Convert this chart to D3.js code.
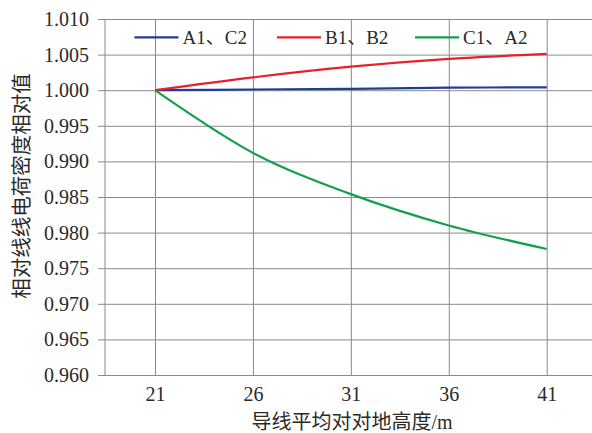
<!DOCTYPE html>
<html>
<head>
<meta charset="utf-8">
<script src="https://cdn.jsdelivr.net/npm/d3@7/dist/d3.min.js"></script>
<style>
  html, body { margin: 0; padding: 0; background: #fff; }
  svg text { font-family: "Liberation Serif", "Times New Roman", Times, "DejaVu Serif", "Noto Sans CJK SC", serif; fill: #2a2a2a; }
</style>
</head>
<body>
<svg id="chart" width="592" height="433"></svg>
<script>
// ---- data ----
const heights = [21, 26, 31, 36, 41];
const seriesNames = ["A1、C2", "B1、B2", "C1、A2"];
const seriesA1C2 = [1.0000, 1.0001, 1.0002, 1.00035, 1.0004];
const seriesB1B2 = [1.0000, 1.0018, 1.0033, 1.0044, 1.0051];
const seriesC1A2 = [1.0000, 0.9912, 0.9854, 0.9810, 0.9777];
const seriesColors = ["#1f3c96", "#e8202a", "#13a04a"];
const yTickValues = [0.960, 0.965, 0.970, 0.975, 0.980, 0.985, 0.990, 0.995, 1.000, 1.005, 1.010];
const xTickValues = [21, 26, 31, 36, 41];
const xTitle = "导线平均对对地高度/m";
const yTitle = "相对线线电荷密度相对值";

const FONT = '"Liberation Serif", "Times New Roman", Times, "DejaVu Serif", "Noto Sans CJK SC", serif';

const svg = d3.select("#chart");
const plotLeft = 105, plotTop = 19, plotBottom = 375, plotRight = 592;

const x = d3.scaleLinear().domain([21, 41]).range([155, 546.7]);
const y = d3.scaleLinear().domain([0.960, 1.010]).range([plotBottom, plotTop]);

const gridColor = "#8a8a8a";

// y grid + labels
const yAxis = d3.axisLeft(y)
  .tickValues(yTickValues)
  .tickFormat(d3.format(".3f"))
  .tickSizeInner(-(plotRight - 98))
  .tickSizeOuter(0)
  .tickPadding(9);
const gy = svg.append("g").attr("transform", "translate(98,0)").call(yAxis);
gy.attr("font-family", null).attr("font-size", null);
gy.select(".domain").remove();
gy.selectAll(".tick line").attr("stroke", gridColor).attr("stroke-width", 1);
gy.selectAll(".tick text").attr("font-size", 20).attr("fill", "#2a2a2a")
  .attr("font-family", FONT).style("font-family", FONT);

// x grid + labels
const xAxis = d3.axisBottom(x)
  .tickValues(xTickValues)
  .tickFormat(d3.format("d"))
  .tickSizeInner(-(plotBottom - plotTop))
  .tickSizeOuter(0)
  .tickPadding(12);
const gx = svg.append("g").attr("transform", `translate(0,${plotBottom})`).call(xAxis);
gx.attr("font-family", null).attr("font-size", null);
gx.select(".domain").remove();
gx.selectAll(".tick line").attr("stroke", gridColor).attr("stroke-width", 1);
gx.selectAll(".tick text").attr("font-size", 20).attr("fill", "#2a2a2a")
  .attr("font-family", FONT).style("font-family", FONT);

// y axis line
svg.append("line")
  .attr("x1", plotLeft).attr("x2", plotLeft)
  .attr("y1", plotTop).attr("y2", plotBottom)
  .attr("stroke", gridColor).attr("stroke-width", 1);

// series lines
const allSeries = [seriesA1C2, seriesB1B2, seriesC1A2];
const line = d3.line()
  .x((d, i) => x(heights[i]))
  .y(d => y(d))
  .curve(d3.curveCatmullRom.alpha(0.5));
svg.append("g").selectAll("path")
  .data(allSeries)
  .join("path")
  .attr("d", d => line(d))
  .attr("fill", "none")
  .attr("stroke", (d, i) => seriesColors[i])
  .attr("stroke-width", 2.2);

// legend
const legendX = [134.5, 277, 415];
const lg = svg.append("g").selectAll("g")
  .data(seriesNames)
  .join("g")
  .attr("transform", (d, i) => `translate(${legendX[i]},37.3)`);
lg.append("line")
  .attr("x1", 0).attr("x2", 44)
  .attr("y1", 0).attr("y2", 0)
  .attr("stroke", (d, i) => seriesColors[i])
  .attr("stroke-width", 2.2);
lg.append("text")
  .attr("x", 48).attr("y", 0).attr("dy", "0.35em")
  .attr("font-size", 19)
  .style("font-family", FONT)
  .text(d => d);

// axis titles
svg.append("text")
  .attr("x", 352).attr("y", 429)
  .attr("text-anchor", "middle")
  .attr("font-size", 20)
  .style("font-family", FONT)
  .text(xTitle);
svg.append("text")
  .attr("transform", "translate(22,186) rotate(-90)")
  .attr("text-anchor", "middle")
  .attr("dy", "0.35em")
  .attr("font-size", 20.5)
  .style("font-family", FONT)
  .text(yTitle);
</script>
</body>
</html>
